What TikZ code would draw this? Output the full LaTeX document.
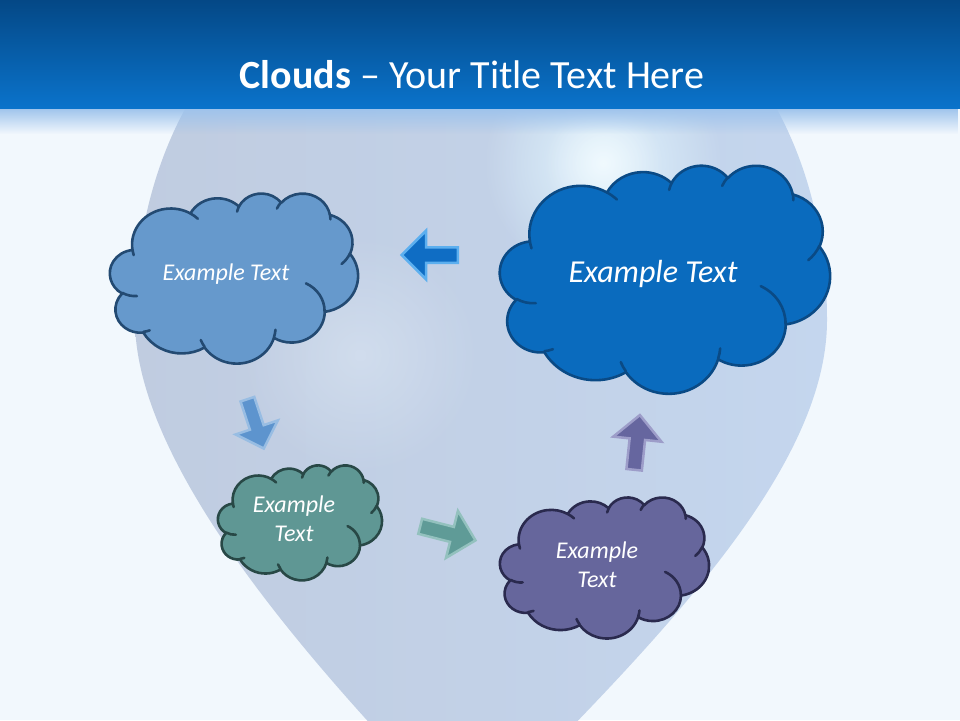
\documentclass[tikz,border=0pt]{standalone}
\usepackage{fontspec}
\setmainfont{Carlito}
\usetikzlibrary{shapes.arrows,fadings}
\definecolor{bg}{HTML}{F2F8FD}
\definecolor{balL}{HTML}{C0CCE0}
\definecolor{balR}{HTML}{C4D6EE}
\definecolor{glow}{HTML}{E2F5FE}
\definecolor{glowB}{HTML}{EEF6FD}
\definecolor{barTop}{HTML}{044886}
\definecolor{barBot}{HTML}{0A73CB}
\definecolor{band}{HTML}{9EC3EC}
\definecolor{cAf}{HTML}{6699CC}\definecolor{cAd}{HTML}{234A72}
\definecolor{cBf}{HTML}{0A6BBE}\definecolor{cBd}{HTML}{0A4A85}
\definecolor{cCf}{HTML}{5F9794}\definecolor{cCd}{HTML}{284846}
\definecolor{cDf}{HTML}{66669C}\definecolor{cDd}{HTML}{2A2A4E}
\definecolor{aAf}{HTML}{0F6DC4}\definecolor{aAd}{HTML}{5CAFEF}
\definecolor{aBf}{HTML}{5D94CE}\definecolor{aBd}{HTML}{98BDE3}
\definecolor{aCf}{HTML}{5F9B97}\definecolor{aCd}{HTML}{93C1BE}
\definecolor{aDf}{HTML}{66669F}\definecolor{aDd}{HTML}{9D9DC9}
\tikzfading[name=glowfade, inner color=transparent!0, outer color=transparent!100]
% elliptical arc with OOXML visual angles
\newcommand\carc[4]{\pgfextra{%
 \pgfmathparse{atan2((#1)*sin(#3),(#2)*cos(#3))}\xdef\cldA{\pgfmathresult}%
 \pgfmathparse{atan2((#1)*sin((#3)+(#4)),(#2)*cos((#3)+(#4)))}\xdef\cldB{\pgfmathresult}%
 \pgfmathparse{\cldB-(\cldA)}\xdef\cldD{\pgfmathresult}%
 \pgfmathparse{\cldD<0 ? \cldD+360 : \cldD}\xdef\cldD{\pgfmathresult}%
 } arc[start angle=\cldA, delta angle=\cldD, x radius=#1pt, y radius=#2pt]}
\newcommand\cloudmain{(3.9,14.37) \carc{6.753}{9.19}{-190.4875}{123.7805} \carc{5.333}{7.267}{-144.1024}{89.9452} \carc{4.365}{5.945}{-145.8079}{99.723} \carc{4.857}{6.595}{-130.9861}{117.2417} \carc{5.333}{7.273}{-78.7089}{109.0269} \carc{6.775}{9.22}{-46.2673}{130.269} \carc{5.785}{7.867}{0.625}{114.0333} \carc{6.752}{9.215}{22.4516}{115.1726} \carc{7.72}{10.543}{66.2426}{75.711} \carc{4.36}{5.918}{-274.9421}{146.7356} \carc{4.345}{5.945}{-246.8285}{152.5189} -- cycle}
\newcommand\cloudinner{(4.693,26.177) \carc{4.345}{5.945}{86.742}{26.4295} (6.928,34.899) \carc{4.36}{5.918}{73.6105}{11.4475} (16.478,39.09) \carc{6.752}{9.215}{137.6242}{14.0811} (28.827,34.751) \carc{6.752}{9.215}{6.4533}{15.9984} (34.129,22.954) \carc{5.785}{7.867}{-70.2924}{70.9174} (41.798,15.354) \carc{5.333}{7.273}{30.318}{27.7515} (38.324,5.426) \carc{4.857}{6.595}{-13.7443}{14.8589} (29.078,3.952) \carc{4.857}{6.595}{-149.1815}{18.1954} (22.141,4.72) \carc{4.365}{5.945}{-163.4943}{17.6864} (14,5.192) \carc{6.753}{9.19}{-66.707}{12.3194} (4.127,15.789) \carc{6.753}{9.19}{157.6544}{11.8582}}
\newcommand\drawcloud[6]{%
 \begin{scope}[shift={(#1,#2)}, x=1pt, y=1pt, xscale=#3, yscale=-#4]
  \filldraw[fill=#5, draw=#6, line width=2.6pt, line join=round] \cloudmain;
  \draw[draw=#6, line width=2.6pt, line cap=round] \cloudinner;
 \end{scope}}
\newcommand\balloonpath{(470,830) .. controls (345,700) and (135,480) .. (135,320) .. controls (135,120) and (250,-60) .. (480,-60) .. controls (712,-60) and (827,120) .. (827,320) .. controls (827,470) and (660,640) .. (470,830) -- cycle}
\begin{document}
\begin{tikzpicture}[x=1pt,y=-1pt,
  ctext/.style={text=white, font=\itshape\fontsize{24}{29}\selectfont, align=center, inner sep=0pt},
  barrow/.style={single arrow, single arrow head extend=16.5pt, inner xsep=0pt, inner ysep=6.5pt, line width=2.5pt, anchor=tail}]
\useasboundingbox (0,0) rectangle (960,720);
\fill[bg] (0,0) rectangle (960,720);
% balloon
\begin{scope}
 \clip \balloonpath;
 \shade[left color=balL, right color=balR] (130,0) rectangle (830,720);
 \fill[glow, path fading=glowfade] (603,163) circle (120);
 \fill[white, path fading=glowfade, opacity=0.5] (603,163) circle (60);
 \fill[glowB, path fading=glowfade, opacity=0.35] (360,355) circle (120);
\end{scope}
% title bar
\fill[band, path fading=south] (0,108) rectangle (960,134);
\shade[top color=barTop, bottom color=barBot] (0,0) rectangle (960,108);
\node[text=white, font=\fontsize{40}{48}\selectfont, inner sep=0pt] (title) at (472,75) {\textbf{Clouds} – Your Title Text Here};
% clouds
\drawcloud{110}{193}{5.7407}{3.9352}{cAf}{cAd}
\drawcloud{500}{165}{7.6389}{5.2778}{cBf}{cBd}
\drawcloud{218}{465}{3.7963}{2.6620}{cCf}{cCd}
\drawcloud{500}{497}{4.8380}{3.2639}{cDf}{cDd}
\node[ctext] (c1) at (226,274) {Example Text};
\node[ctext, font=\itshape\fontsize{32}{38}\selectfont] (c2) at (653,274) {Example Text};
\node[ctext] (c3) at (294,519) {Example\\Text};
\node[ctext] (c4) at (597,565) {Example\\Text};
% arrows
\node[barrow, fill=aAf, draw=aAd, minimum height=56pt, rotate=180] (a1) at (459,255) {};
\node[barrow, fill=aBf, draw=aBd, minimum height=52pt, inner ysep=6pt, single arrow head extend=15pt, rotate=-71.6] (a2) at (247,398) {};
\node[barrow, fill=aCf, draw=aCd, minimum height=57pt, rotate=-14.3] (a3) at (419,526) {};
\node[barrow, fill=aDf, draw=aDd, minimum height=55pt, rotate=84] (a4) at (634,471) {};
\end{tikzpicture}
\end{document}
